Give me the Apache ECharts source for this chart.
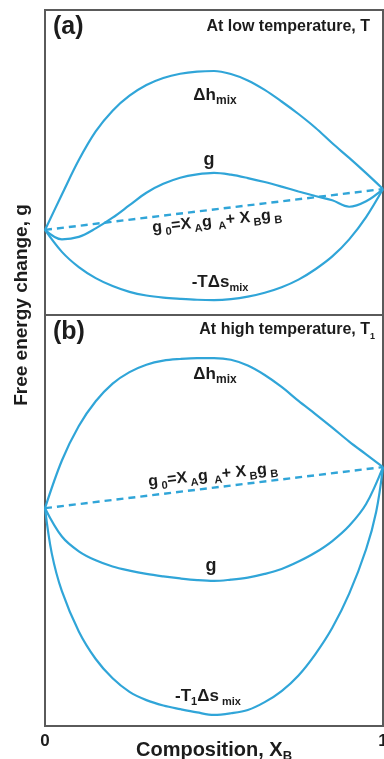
<!DOCTYPE html>
<html>
<head>
<meta charset="utf-8">
<script src="https://cdn.jsdelivr.net/npm/echarts@6/dist/echarts.min.js"></script>
<style>
  html, body { margin: 0; padding: 0; background: #fff; }
  #chart { width: 384px; height: 759px; }
</style>
</head>
<body>
<div id="chart"></div>
<script>
// 数据：曲线点（x 为成分 X_B，y 为任意能量单位 0~10）
const xs = [0, 0.05, 0.10, 0.15, 0.20, 0.25, 0.30, 0.35, 0.40, 0.45, 0.50, 0.55, 0.60, 0.65, 0.70, 0.75, 0.80, 0.85, 0.90, 0.95, 1];
// 两端陡峭的曲线多读一个点
const xsEdge = [0, 0.02, 0.05, 0.10, 0.15, 0.20, 0.25, 0.30, 0.35, 0.40, 0.45, 0.50, 0.55, 0.60, 0.65, 0.70, 0.75, 0.80, 0.85, 0.90, 0.95, 0.98, 1];

// (a) 低温
const dhLow = [2.79, 3.95, 5.08, 6.02, 6.70, 7.19, 7.54, 7.77, 7.91, 7.98, 8.00, 7.90, 7.69, 7.38, 7.00, 6.59, 6.14, 5.63, 5.15, 4.65, 4.13];
const gLow = [2.79, 2.48, 2.56, 2.84, 3.19, 3.60, 4.01, 4.30, 4.50, 4.61, 4.66, 4.60, 4.49, 4.36, 4.21, 4.05, 3.90, 3.76, 3.55, 3.73, 4.13];
const tdsLow = [2.79, 2.07, 1.57, 1.21, 0.95, 0.76, 0.64, 0.57, 0.53, 0.50, 0.49, 0.52, 0.60, 0.73, 0.91, 1.16, 1.50, 1.92, 2.48, 3.21, 4.13];
const g0Low = [2.79, 4.13]; // g_A, g_B

// (b) 高温
const dhHigh = [5.30, 6.46, 7.30, 7.90, 8.33, 8.61, 8.79, 8.89, 8.93, 8.95, 8.95, 8.91, 8.77, 8.54, 8.25, 7.91, 7.59, 7.26, 6.92, 6.61, 6.30];
const gHigh = [5.30, 4.61, 4.25, 4.03, 3.88, 3.78, 3.70, 3.64, 3.59, 3.55, 3.53, 3.56, 3.61, 3.70, 3.82, 4.00, 4.22, 4.50, 4.87, 5.40, 6.30];
const tdsHigh = [5.30, 4.20, 3.28, 2.30, 1.63, 1.16, 0.83, 0.63, 0.50, 0.41, 0.33, 0.27, 0.31, 0.39, 0.58, 0.85, 1.23, 1.75, 2.39, 3.22, 4.30, 5.22, 6.30];
const g0High = [5.30, 6.30];

const xEnds = [0, 1];
const xTicks = [0, 1];

const BLUE = '#30a5d8';
const INK = '#1c1c1c';
const FONT = 'Liberation Sans, Arial, sans-serif';

const zip = (a, b) => a.map((x, i) => [x, b[i]]);

function curve(xArr, yArr, gridIdx, dashed) {
  return {
    type: 'line', xAxisIndex: gridIdx, yAxisIndex: gridIdx,
    data: zip(xArr, yArr), showSymbol: false, symbol: 'none',
    smooth: dashed ? false : 0.35, clip: false, silent: true,
    lineStyle: { color: BLUE, width: dashed ? 2.4 : 2.2, type: dashed ? [7, 5] : 'solid' }
  };
}

// 富文本：m 为正文，s 为下标
function richStyle(main, sub) {
  return {
    m: { fontSize: main, fontWeight: 'bold', fontFamily: FONT, color: INK, lineHeight: main + 6 },
    s: { fontSize: sub, fontWeight: 'bold', fontFamily: FONT, color: INK, lineHeight: sub, verticalAlign: 'bottom' }
  };
}

function label(x, y, text, main, sub, rot, align) {
  return {
    type: 'text', x: x, y: y, rotation: rot || 0, silent: true,
    style: {
      text: text, rich: richStyle(main, sub || 11),
      align: align || 'center', verticalAlign: 'middle',
      fontFamily: FONT, fontWeight: 'bold', fontSize: main, fill: INK
    }
  };
}

const chart = echarts.init(document.getElementById('chart'), null, { renderer: 'canvas' });

const gridBase = {
  left: 45, width: 338, show: true, borderColor: '#5a5a5a', borderWidth: 2,
  backgroundColor: 'transparent', outerBoundsMode: 'none', containLabel: false
};

chart.setOption({
  animation: false,
  backgroundColor: '#fff',
  textStyle: { fontFamily: FONT },
  grid: [
    Object.assign({ top: 10, height: 305 }, gridBase),
    Object.assign({ top: 315, height: 411 }, gridBase)
  ],
  xAxis: [
    { gridIndex: 0, type: 'value', min: 0, max: 1, show: false },
    {
      gridIndex: 1, type: 'value', min: xTicks[0], max: xTicks[1], interval: 1,
      axisLine: { show: false }, axisTick: { show: false }, splitLine: { show: false },
      axisLabel: { color: INK, fontSize: 17, fontWeight: 'bold', fontFamily: FONT, margin: 7 },
      name: '{m|Composition, X}{s|B}', nameLocation: 'middle', nameGap: 11, nameMoveOverlap: false,
      nameTextStyle: { rich: richStyle(20, 13) }
    }
  ],
  yAxis: [
    { gridIndex: 0, type: 'value', min: 0, max: 10, show: false },
    { gridIndex: 1, type: 'value', min: 0, max: 10, show: false }
  ],
  series: [
    curve(xs, dhLow, 0),
    curve(xs, gLow, 0),
    curve(xs, tdsLow, 0),
    curve(xEnds, g0Low, 0, true),
    curve(xs, dhHigh, 1),
    curve(xs, gHigh, 1),
    curve(xsEdge, tdsHigh, 1),
    curve(xEnds, g0High, 1, true)
  ],
  graphic: [
    // 纵轴标题
    label(22, 305, '{m|Free energy change, g}', 19, 11, Math.PI / 2),
    // (a)
    label(53, 27, '{m|(a)}', 25, 11, 0, 'left'),
    label(370, 27, '{m|At low temperature, T}', 16, 11, 0, 'right'),
    label(215, 95, '{m|Δh}{s|mix}', 17, 12),
    label(209, 160, '{m|g}', 18, 11),
    label(217, 221, '{m|g}{s| 0}{m|=X}{s| A}{m|g}{s|  A}{m|+ X}{s| B}{m|g}{s| B}', 16, 11, 0.105),
    label(220, 282, '{m|-TΔs}{s|mix}', 17, 11),
    // (b)
    label(53, 332, '{m|(b)}', 25, 11, 0, 'left'),
    label(375, 330, '{m|At high temperature, T}{s|1}', 16, 9, 0, 'right'),
    label(215, 374, '{m|Δh}{s|mix}', 17, 12),
    label(213, 475, '{m|g}{s| 0}{m|=X}{s| A}{m|g}{s|  A}{m|+ X}{s| B}{m|g}{s| B}', 16, 11, 0.105),
    label(211, 566, '{m|g}', 18, 11),
    label(208, 696, '{m|-T}{s|1}{m|Δs}{s| mix}', 17, 11)
  ]
});
</script>
</body>
</html>
